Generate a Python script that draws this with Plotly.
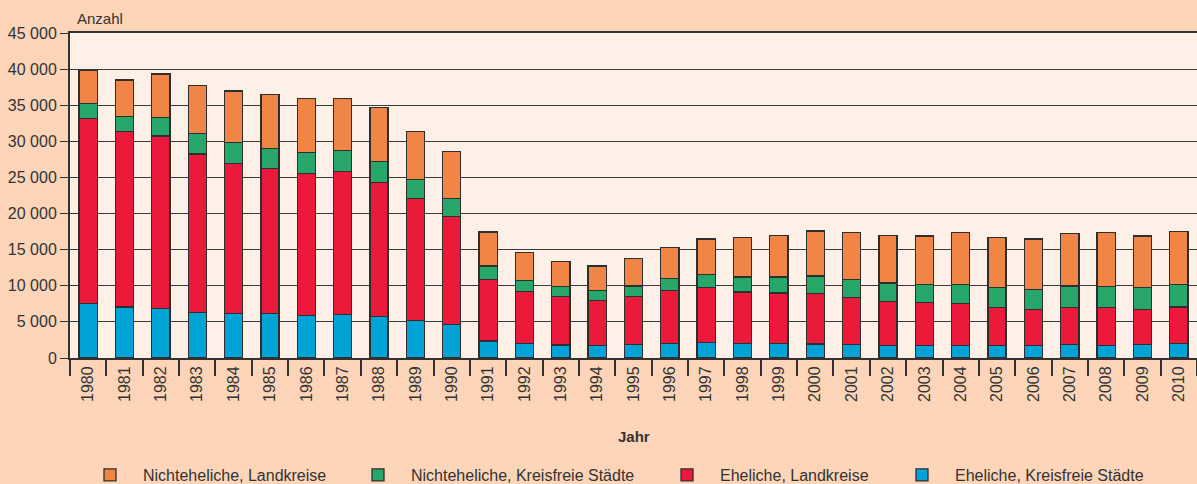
import plotly.graph_objects as go

years = [str(y) for y in range(1980, 2011)]

eheliche_kreisfrei = [7550, 7080, 6900, 6260, 6120, 6120, 5890, 6030, 5700, 5200, 4600,
                      2350, 1980, 1790, 1700, 1890, 2020, 2160, 2020, 2020, 1950,
                      1890, 1750, 1750, 1750, 1750, 1750, 1890, 1750, 1890, 1980]
eheliche_land = [25650, 24300, 23840, 22000, 20840, 20110, 19650, 19830, 18640, 16850, 14960,
                 8510, 7270, 6730, 6260, 6670, 7320, 7640, 7130, 6990, 6980,
                 6440, 6120, 5940, 5750, 5250, 5010, 5110, 5250, 4830, 5100]
nicht_kreisfrei = [2040, 2070, 2570, 2840, 2900, 2800, 2940, 2900, 2900, 2660, 2530,
                   1880, 1470, 1380, 1380, 1420, 1660, 1750, 2070, 2210, 2430,
                   2570, 2530, 2530, 2670, 2760, 2770, 2980, 2940, 3040, 3140]
nicht_land = [4610, 5060, 6030, 6630, 7090, 7460, 7460, 7180, 7450, 6670, 6530,
              4700, 3860, 3490, 3400, 3820, 4280, 4920, 5440, 5720, 6210,
              6450, 6540, 6670, 7180, 6940, 6940, 7230, 7410, 7130, 7270]

series = [
    ("Eheliche, Kreisfreie Städte", eheliche_kreisfrei, "#00A3D6", "legend5"),
    ("Eheliche, Landkreise", eheliche_land, "#EC1A3A", "legend4"),
    ("Nichteheliche, Kreisfreie Städte", nicht_kreisfrei, "#27A86A", "legend3"),
    ("Nichteheliche, Landkreise", nicht_land, "#F18545", "legend2"),
]

FONT = "Liberation Sans, Arial, sans-serif"
TXT = "#333333"

fig = go.Figure()
for name, vals, col, lg in series:
    fig.add_trace(go.Bar(
        x=years, y=vals, name=name, legend=lg,
        marker=dict(color=col, line=dict(color="#2e2e2e", width=1.3)),
    ))

def lx(center_px):
    return (center_px - 33) / 1197.0

legend_common = dict(orientation="h", xref="container", yref="container",
                     yanchor="middle", y=1 - 475 / 484.0, xanchor="left",
                     itemwidth=56, borderwidth=0,
                     bgcolor="rgba(0,0,0,0)", font=dict(family=FONT, size=16, color=TXT))

fig.update_layout(
    width=1197, height=484,
    margin=dict(l=70, r=0, t=33, b=126, autoexpand=False),
    paper_bgcolor="#FED5B9",
    plot_bgcolor="#FEF0E6",
    barmode="stack",
    bargap=0.5,
    separators=", ",
    showlegend=True,
    font=dict(family=FONT, size=16, color=TXT),
    legend2=dict(**legend_common, x=lx(110)),
    legend3=dict(**legend_common, x=lx(378)),
    legend4=dict(**legend_common, x=lx(687)),
    legend5=dict(**legend_common, x=lx(922)),
    xaxis=dict(
        type="category", tickson="boundaries", ticks="outside", ticklen=16,
        tickcolor="#333333", tickwidth=1.5, showline=True, linecolor="#333333", linewidth=2,
        mirror=True, tickangle=-90, showgrid=False,
        tickfont=dict(family=FONT, size=16, color=TXT),
    ),
    yaxis=dict(
        range=[0, 45000], dtick=5000, tickformat=",d", ticks="outside", ticklen=8,
        tickcolor="#333333", showline=True, linecolor="#333333", linewidth=2,
        showgrid=True, gridcolor="#3a3a3a", gridwidth=1, zeroline=False,
        tickfont=dict(family=FONT, size=16, color=TXT),
    ),
    annotations=[
        dict(text="Anzahl", xref="paper", yref="paper", x=0.004, y=1.0, yshift=4,
             xanchor="left", yanchor="bottom", showarrow=False,
             font=dict(family=FONT, size=15, color=TXT)),
        dict(text="<b>Jahr</b>", xref="paper", yref="paper", x=0.5, y=-0.243,
             xanchor="center", yanchor="middle", showarrow=False,
             font=dict(family=FONT, size=15, color=TXT)),
    ],
)

fig.write_html("out.html", config={"displayModeBar": False},
               post_script="document.body.style.margin='0';document.body.style.padding='0';document.body.style.overflow='hidden';")
